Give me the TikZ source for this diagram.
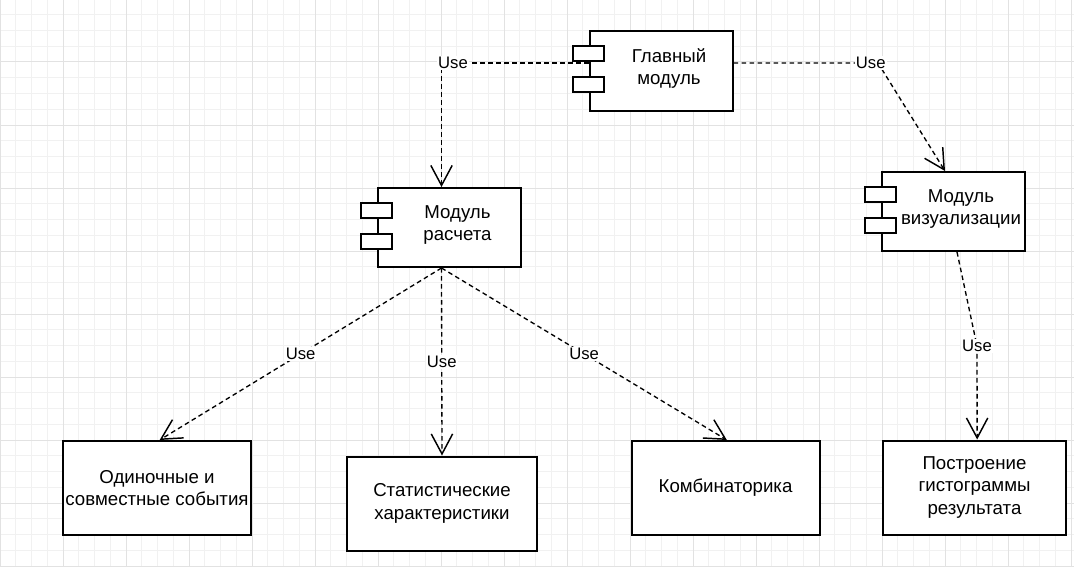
\documentclass[tikz,border=0pt]{standalone}
\usepackage{fontspec}
\setmainfont{Liberation Sans}
\usetikzlibrary{arrows.meta}

\definecolor{gridminor}{HTML}{F1F1F1}
\definecolor{gridmajor}{HTML}{E2E2E2}

\begin{document}
\begin{tikzpicture}[x=0.75pt,y=-0.75pt,
	minorline/.style	={draw=gridminor, line width=0.75pt},
	majorline/.style	={draw=gridmajor, line width=0.75pt},
	comp/.style	={rectangle,draw,line width=1.5pt,fill=white,minimum width=107.25pt,minimum height=59.25pt,inner sep=0pt},
	comptext/.style	={align=center,inner sep=0pt,xshift=6pt,yshift=2pt,font=\fontsize{14}{16.8}\selectfont},
	port/.style	={draw,line width=1.5pt,fill=white},
	block/.style	={rectangle,draw,line width=1.5pt,fill=white,minimum width=141pt,minimum height=70.5pt,inner xsep=1pt,align=center,font=\fontsize{14}{16.8}\selectfont},
	dep/.style	={line width=1pt,dash pattern=on 3.5pt off 2.5pt,-{Straight Barb[length=15pt,width=16pt,line width=1.1pt]}},
	uselabel/.style	={fill=white,inner sep=1pt,font=\fontsize{12.5}{14}\selectfont},
	]
	
	\fill[white] (0,0) rectangle (1074,567);
	\useasboundingbox (0,0) rectangle (1074,567);
	
	% grid
	\foreach \i in {0,...,68}
	\draw[minorline] ({15.75*\i},0) -- ({15.75*\i},567);
	\foreach \j in {1,...,36}
	\draw[minorline] (0,{15.75*\j-1}) -- (1074,{15.75*\j-1});
	\foreach \i in {0,...,17}
	\draw[majorline] ({63*\i},0) -- ({63*\i},567);
	\foreach \j in {1,...,9}
	\draw[majorline] (0,{63*\j-1}) -- (1074,{63*\j-1});
	
	\node [comp,label={[comptext]center:Главный\\модуль}] (main) at (661,71) {};
	\node [comp,label={[comptext]center:Модуль\\расчета}] (calc) at (449.5,227.5) {};
	\node [comp,label={[comptext]center:Модуль\\визуализации}] (viz) at (953,211.5) {};
	
	\foreach \c in {main, calc, viz}
	{
		\draw [port] (\c.north west) ++(-16,15.5) rectangle ++(31,15);
		\draw [port] (\c.north west) ++(-16,46.5) rectangle ++(31,15);
	}
	
	\node [block] (ev) at (157,488) {Одиночные и\\совместные события};
	\node [block,minimum width=142.5pt] (stat) at (442,503.5) {Статистические\\характеристики};
	\node [block] (comb) at (725.5,488) {Комбинаторика};
	\node [block,minimum width=137.25pt] (hist) at (974.5,487.5) {Построение\\гистограммы\\результата};
	
	\coordinate (bendL) at (441.5,63);
	\coordinate (bendR) at (878,63);
	\coordinate (bendV) at (977,346);
	
	\draw [dep] ([yshift=6pt]main.west) -- (bendL) -- ([xshift=-6pt]calc.north);
	\node [uselabel] (lcalc) at (453,63) {Use};
	\draw [dep] ([yshift=6pt]main.east) -- node[uselabel,pos=0.95] (lviz) {Use} (bendR) -- ([xshift=-6pt]viz.north);
	
	\foreach \t/\s in {ev/2pt, stat/0pt, comb/1pt}
	\draw [dep] ([xshift=-6pt]calc.south) -- node[uselabel] (l\t) {Use} ([xshift=\s]\t.north);
	
	\draw [dep] ([xshift=3pt]viz.south) -- (bendV) node[uselabel] (lhist) {Use} -- ([xshift=2pt]hist.north);
\end{tikzpicture}
\end{document}
